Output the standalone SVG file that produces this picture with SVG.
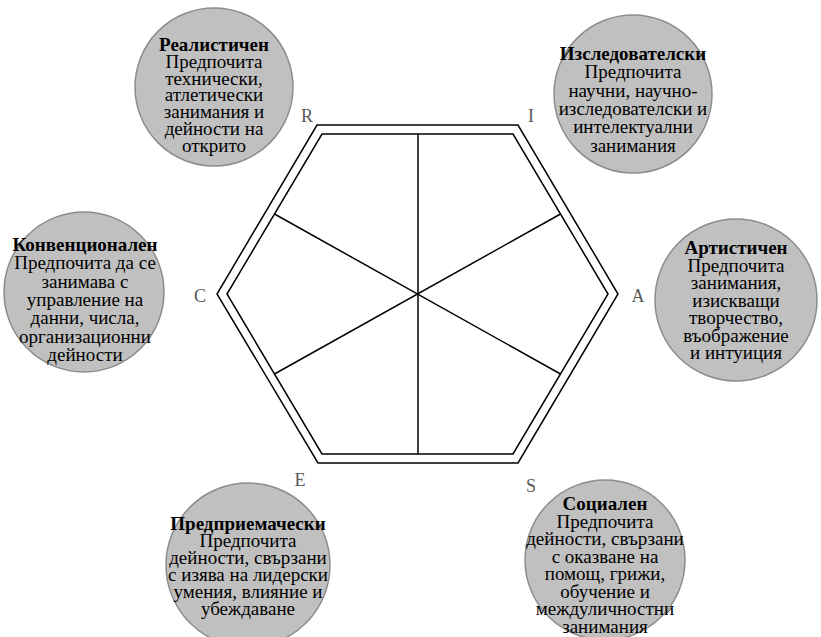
<svg xmlns="http://www.w3.org/2000/svg" width="821" height="637" viewBox="0 0 821 637">
<style>
.c{fill:#c0c0c0;stroke:#8c8c8c;stroke-width:1.5}
.t{font-family:"Liberation Serif","Times New Roman",serif;font-size:19px;fill:#000;text-anchor:middle}
.b{font-weight:bold}
.l{font-family:"Liberation Serif","Times New Roman",serif;font-size:18px;fill:#595959;text-anchor:middle}
.h{fill:none;stroke:#000;stroke-width:1.5}
</style>
<rect width="821" height="637" fill="#fff"/>
<g id="hexagon">
<polygon class="h" points="317,125 518,125 618,294 518,463 318,463 217,294"/>
<polygon class="h" points="322,134 513,134 608,294 513,454 322,454 227,294"/>
</g>
<g id="connectors">
<line class="h" x1="418" y1="134" x2="418" y2="454"/>
<line class="h" x1="274.5" y1="214" x2="560.5" y2="374"/>
<line class="h" x1="560.5" y1="214" x2="274.5" y2="374"/>
</g>
<g id="labels">
<text class="l" x="307" y="122">R</text>
<text class="l" x="531" y="122">I</text>
<text class="l" x="200" y="302">C</text>
<text class="l" x="638" y="302">A</text>
<text class="l" x="300" y="486">E</text>
<text class="l" x="531" y="492">S</text>
</g>
<g id="node-R">
<circle class="c" cx="214" cy="87" r="79"/>
<text class="t" x="214" y="51"><tspan class="b">Реалистичен</tspan><tspan x="214" dy="16.8">Предпочита</tspan><tspan x="214" dy="16.8">технически,</tspan><tspan x="214" dy="16.8">атлетически</tspan><tspan x="214" dy="16.8">занимания и</tspan><tspan x="214" dy="16.8">дейности на</tspan><tspan x="214" dy="16.8">открито</tspan></text>
</g>
<g id="node-I">
<circle class="c" cx="633" cy="94" r="79"/>
<text class="t" x="633" y="60"><tspan class="b">Изследователски</tspan><tspan x="633" dy="18.3">Предпочита</tspan><tspan x="633" dy="18.3">научни, научно-</tspan><tspan x="633" dy="18.3">изследователски и</tspan><tspan x="633" dy="18.3">интелектуални</tspan><tspan x="633" dy="18.3">занимания</tspan></text>
</g>
<g id="node-C">
<circle class="c" cx="84" cy="292" r="80"/>
<text class="t" x="85" y="251"><tspan class="b">Конвенционален</tspan><tspan x="85" dy="18.3">Предпочита да се</tspan><tspan x="85" dy="18.3">занимава с</tspan><tspan x="85" dy="18.3">управление на</tspan><tspan x="85" dy="18.3">данни, числа,</tspan><tspan x="85" dy="18.3">организационни</tspan><tspan x="85" dy="18.3">дейности</tspan></text>
</g>
<g id="node-A">
<circle class="c" cx="736" cy="300" r="81"/>
<text class="t" x="736" y="254"><tspan class="b">Артистичен</tspan><tspan x="736" dy="17.5">Предпочита</tspan><tspan x="736" dy="17.5">занимания,</tspan><tspan x="736" dy="17.5">изискващи</tspan><tspan x="736" dy="17.5">творчество,</tspan><tspan x="736" dy="17.5">въображение</tspan><tspan x="736" dy="17.5">и интуиция</tspan></text>
</g>
<g id="node-E">
<circle class="c" cx="248" cy="565" r="82"/>
<text class="t" x="248" y="530"><tspan class="b">Предприемачески</tspan><tspan x="248" dy="17">Предпочита</tspan><tspan x="248" dy="17">дейности, свързани</tspan><tspan x="248" dy="17">с изява на лидерски</tspan><tspan x="248" dy="17">умения, влияние и</tspan><tspan x="248" dy="17">убеждаване</tspan></text>
</g>
<g id="node-S">
<circle class="c" cx="605" cy="560" r="80"/>
<text class="t" x="605" y="510"><tspan class="b">Социален</tspan><tspan x="605" dy="17.5">Предпочита</tspan><tspan x="605" dy="17.5">дейности, свързани</tspan><tspan x="605" dy="17.5">с оказване на</tspan><tspan x="605" dy="17.5">помощ, грижи,</tspan><tspan x="605" dy="17.5">обучение и</tspan><tspan x="605" dy="17.5">междуличностни</tspan><tspan x="605" dy="17.5">занимания</tspan></text>
</g>
</svg>
